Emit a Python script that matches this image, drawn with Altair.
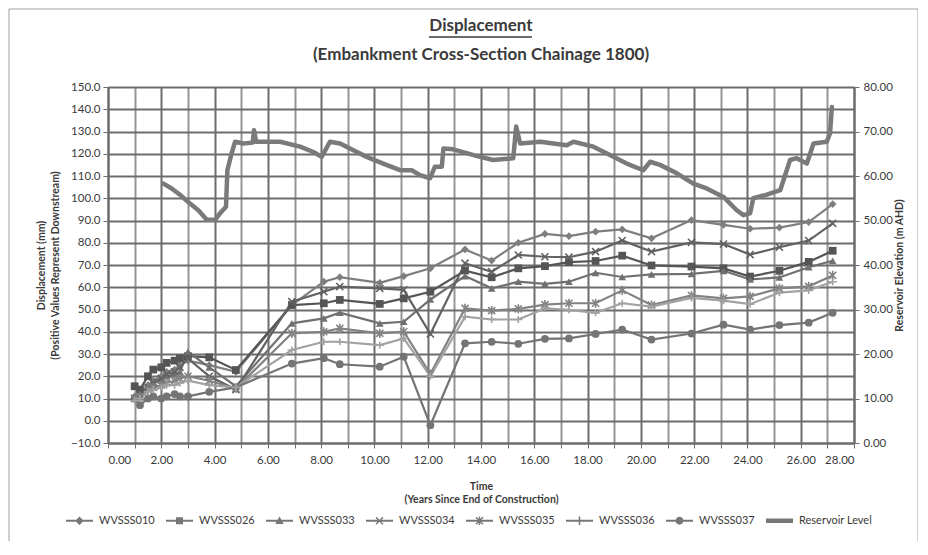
import altair as alt
import pandas as pd

# ---------------- data ----------------
T = [1.0, 1.2, 1.5, 1.7, 2.0, 2.2, 2.5, 2.7, 3.0, 3.8, 4.8, 6.9, 8.1, 8.7, 10.2, 11.1,
     12.1, 13.4, 14.4, 15.4, 16.4, 17.3, 18.3, 19.3, 20.4, 21.9, 23.1, 24.1, 25.2, 26.3, 27.2]

W010 = [11, 12, 16, 18, 20, 22, 23, 25, 27, 25, 22, 52, 62.5, 64.5, 62, 65,
        68.5, 77, 72, 80, 84, 83, 85, 86, 82, 90.2, 88, 86.3, 86.8, 89.3, 97.4]
W026 = [15.5, 14, 20, 23, 24, 26, 27, 28, 29, 28.5, 22.8, 52, 52.8, 54.3, 52.5, 55,
        58, 67.5, 64.5, 68.5, 69.5, 71.3, 71.8, 74.2, 69.8, 69.3, 68.5, 64.8, 67.4, 71.4, 76.4]
W033 = [11, 12, 15, 17, 18, 20, 21, 22, 31, 24, 15.5, 43.8, 46, 48.6, 43.8, 44.5,
        54.5, 65, 59.5, 62.5, 61.5, 62.5, 66.5, 64.6, 65.8, 66.0, 67.4, 63.5, 64.4, 69.0, 71.9]
W034 = [10, 11, 15, 17, 19, 21, 22, 24, 28, 20, 14, 53.5, 58, 60.3, 59.5, 58.8,
        39, 70.8, 67, 74.5, 73.7, 73.5, 76, 81, 76, 80.2, 79.4, 74.7, 78, 81, 88.7]
W035 = [10, 11, 14, 15, 16, 17, 18, 19, 20, 18, 14.5, 39.3, 40, 41.5, 39.3, 40,
        21, 50.5, 49.5, 50.3, 52.2, 52.8, 52.8, 58.6, 52.0, 56.3, 55.0, 55.9, 59.5, 60.4, 65.3]
W036 = [9, 10, 13, 14, 15, 16, 16, 17, 18, 16, 15, 31.8, 35.5, 35.5, 34, 37,
        20, 46.8, 45.5, 45.5, 50.5, 49.8, 48.5, 52.8, 51.3, 55.2, 54.0, 52.4, 57.6, 58.6, 62.5]
W037 = [10, 7, 10, 11, 10, 11, 12, 11, 11, 13, 15, 25.7, 28.1, 25.4, 24.3, 28.8,
        -2, 34.8, 35.5, 34.6, 36.8, 37.0, 39.0, 41.0, 36.5, 39.2, 43.2, 41.0, 43.0, 44.1, 48.5]

RES_T = [2.08, 2.39, 2.70, 3.08, 3.39, 3.70, 4.02, 4.20, 4.43, 4.48, 4.64, 4.77, 5.08, 5.43,
         5.48, 5.56, 6.46, 7.21, 7.71, 8.02, 8.33, 8.71, 9.21, 9.71, 10.33, 10.96, 11.40,
         11.71, 12.09, 12.27, 12.53, 12.59, 12.96, 13.96, 14.46, 15.21, 15.32, 15.47, 16.22,
         17.22, 17.47, 18.22, 18.84, 19.47, 20.09, 20.35, 20.72, 21.35, 21.97, 22.47, 23.10,
         23.60, 23.85, 24.10, 24.22, 24.73, 25.23, 25.60, 25.85, 26.23, 26.48, 26.98, 27.10, 27.17]
RES_L = [58.3, 57.2, 55.8, 53.8, 52.3, 50.2, 50.1, 51.6, 53.1, 61.3, 65.1, 67.7, 67.3, 67.5,
         70.3, 67.7, 67.7, 66.6, 65.4, 64.3, 67.7, 67.3, 65.8, 64.3, 62.8, 61.3, 61.3,
         60.2, 59.5, 62.1, 62.1, 66.2, 66.0, 64.3, 63.6, 64.0, 71.1, 67.3, 67.7,
         66.9, 67.7, 66.6, 64.7, 62.8, 61.3, 63.2, 62.5, 60.6, 58.3, 57.2, 55.3,
         52.3, 51.2, 51.6, 55.0, 55.8, 56.8, 63.6, 64.0, 62.8, 67.3, 67.7, 69.6, 75.5]

SERIES = ["WVSSS010", "WVSSS026", "WVSSS033", "WVSSS034", "WVSSS035", "WVSSS036", "WVSSS037"]
RES_NAME = "Reservoir Level"
ALL_NAMES = SERIES + [RES_NAME]
GRAYS = ["#7e7e7e", "#555555", "#707070", "#626262", "#838383", "#a2a2a2", "#747474", "#7a7a7a"]

values = [W010, W026, W033, W034, W035, W036, W037]
rows = []
for name, vals in zip(SERIES, values):
    for t, v in zip(T, vals):
        rows.append({"Time": t, "Value": v, "Series": name})
df = pd.DataFrame(rows)
res_df = pd.DataFrame({"Time": RES_T, "Level": RES_L, "Series": RES_NAME})
legend_df = pd.DataFrame({"Series": ALL_NAMES})

FONT = "Lato"
TXT = "#3a3a3a"
GRID = "#6c6c6c"

color_scale = alt.Scale(domain=ALL_NAMES, range=GRAYS)

x_enc = alt.X("Time:Q",
              scale=alt.Scale(domain=[0, 28], nice=False, zero=False),
              axis=alt.Axis(values=list(range(0, 29)), tickCount=40,
                            labelExpr="datum.value % 2 == 0 ? format(datum.value, '.2f') : ''",
                            labelOverlap=False,
                            title=["Time", "(Years Since End of Construction)"],
                            grid=True, gridOpacity=1,
                            gridColor={"condition": {"test": "datum.value % 2 == 1", "value": "#959595"},
                                       "value": GRID},
                            gridWidth=2, tickSize=5, tickColor=GRID, domainColor=GRID,
                            domainWidth=2, labelPadding=6, titlePadding=16,
                            labelFontSize=11.5, labelColor=TXT, labelFont=FONT,
                            titleFontSize=10.5, titleFont=FONT, titleFontWeight="bold",
                            titleColor=TXT, titleLineHeight=13))

y_left = alt.Y("Value:Q",
               scale=alt.Scale(domain=[-10, 150], nice=False, zero=False),
               axis=alt.Axis(values=list(range(-10, 151, 10)), tickCount=30, format=".1f",
                             labelOverlap=False,
                             title=["Displacement (mm)", "(Positive Values Represent Downstream)"],
                             grid=True, gridColor=GRID, gridWidth=2, gridOpacity=1,
                             tickSize=5, tickColor=GRID, domainColor=GRID, domainWidth=2,
                             labelPadding=3, titlePadding=10,
                             labelFontSize=11.5, labelColor=TXT, labelFont=FONT,
                             titleFontSize=10.5, titleFont=FONT, titleFontWeight="bold",
                             titleColor=TXT, titleLineHeight=14))

lines = alt.Chart(df).mark_line(strokeWidth=2.2).encode(
    x=x_enc, y=y_left,
    color=alt.Color("Series:N", scale=color_scale, legend=None))

FILLED = ["WVSSS010", "WVSSS026", "WVSSS033", "WVSSS037"]
STROKED = ["WVSSS034", "WVSSS035", "WVSSS036"]

pts_filled = alt.Chart(df[df.Series.isin(FILLED)]).mark_point(
    filled=True, size=60, opacity=1).encode(
    x="Time:Q", y="Value:Q",
    color=alt.Color("Series:N", scale=color_scale, legend=None),
    shape=alt.Shape("Series:N",
                    scale=alt.Scale(domain=FILLED, range=["diamond", "square", "triangle-up", "circle"]),
                    legend=None))

pts_stroked = alt.Chart(df[df.Series.isin(STROKED)]).mark_point(
    filled=False, size=50, opacity=1, strokeWidth=1.6).encode(
    x="Time:Q", y="Value:Q",
    color=alt.Color("Series:N", scale=color_scale, legend=None),
    shape=alt.Shape("Series:N",
                    scale=alt.Scale(domain=STROKED,
                                    range=["M-1,-1L1,1M-1,1L1,-1",
                                           "M-1,-1L1,1M-1,1L1,-1M0,-1.3V1.3",
                                           "M-1.2,0H1.2M0,-1V1"]),
                    legend=None))

# legend symbols drawn entirely as filled outlines (line + marker), all clockwise
LINE = "M-2.7,-0.19H2.7V0.19H-2.7Z"
XBARS = ("M-0.6,-0.8L0.8,0.6L0.6,0.8L-0.8,-0.6Z"
         "M0.8,-0.6L-0.6,0.8L-0.8,0.6L0.6,-0.8Z")
VBAR = "M-0.15,-0.85H0.15V0.85H-0.15Z"
LEG_PATHS = [
    LINE + "M0,-0.85L0.85,0L0,0.85L-0.85,0Z",
    LINE + "M-0.7,-0.7H0.7V0.7H-0.7Z",
    LINE + "M0,-0.85L0.85,0.65H-0.85Z",
    LINE + XBARS,
    LINE + XBARS + VBAR,
    LINE + VBAR,
    LINE + "M0.78,0A0.78,0.78,0,1,1,-0.78,0A0.78,0.78,0,1,1,0.78,0Z",
    "M-2.7,-0.45H2.7V0.45H-2.7Z",
]

leg = alt.Legend(orient="none", legendX=-34, legendY=428, direction="horizontal", columns=8,
                 title=None, symbolSize=100, symbolStrokeWidth=0, symbolFillColor="#777777",
                 labelOffset=14, columnPadding=11, labelFont=FONT, labelFontSize=11, labelColor=TXT)

legend_layer = alt.Chart(legend_df).mark_point(size=0, filled=True, opacity=1).encode(
    fill=alt.Fill("Series:N", scale=alt.Scale(domain=ALL_NAMES, range=GRAYS), legend=leg, sort=ALL_NAMES),
    shape=alt.Shape("Series:N", scale=alt.Scale(domain=ALL_NAMES, range=LEG_PATHS), legend=leg, sort=ALL_NAMES))

# decorations: outer frame and title underline
deco = pd.DataFrame({"k": [0]})
frame = alt.Chart(deco).mark_rect(fill="transparent", stroke="#a0a0a0", strokeWidth=1).encode(
    x=alt.value(-99), x2=alt.value(810), y=alt.value(-78), y2=alt.value(458))
underline = alt.Chart(deco).mark_rule(stroke=TXT, strokeWidth=1.5).encode(
    x=alt.value(321), x2=alt.value(424), y=alt.value(-50))

left_layer = alt.layer(lines, pts_filled, pts_stroked).resolve_scale(shape="independent")

reservoir = alt.Chart(res_df).mark_line(strokeWidth=4.5, strokeJoin="round", strokeCap="round").encode(
    x="Time:Q",
    y=alt.Y("Level:Q",
            scale=alt.Scale(domain=[0, 80], nice=False, zero=False),
            axis=alt.Axis(orient="right", values=list(range(0, 81, 10)), tickCount=20, format=".2f",
                          title="Reservoir Elevation (m AHD)", titleAngle=270,
                          grid=False, tickSize=5, tickColor=GRID, domainColor=GRID,
                          domainWidth=2, labelPadding=4, titlePadding=12,
                          labelFontSize=11.5, labelColor=TXT, labelFont=FONT,
                          titleFontSize=10.5, titleFont=FONT, titleFontWeight="bold",
                          titleColor=TXT)),
    color=alt.Color("Series:N", scale=color_scale, legend=None))

chart = alt.layer(frame, left_layer, legend_layer, reservoir, underline).resolve_scale(
    y="independent", shape="independent"
).properties(
    width=746, height=356,
    title=alt.TitleParams(text="Displacement",
                          subtitle="(Embankment Cross-Section Chainage 1800)",
                          anchor="middle", frame="group", offset=-55,
                          font=FONT, fontSize=17, fontWeight="bold", color=TXT,
                          subtitleFont=FONT, subtitleFontSize=17, subtitleFontWeight="bold",
                          subtitleColor=TXT, subtitlePadding=12),
    autosize=alt.AutoSizeParams(type="none"),
    padding={"left": 100, "top": 79, "right": 64, "bottom": 98},
).configure_view(stroke=GRID, strokeWidth=2
).configure(background="white")

chart.save("out.html", embed_options={"renderer": "svg", "actions": False})
